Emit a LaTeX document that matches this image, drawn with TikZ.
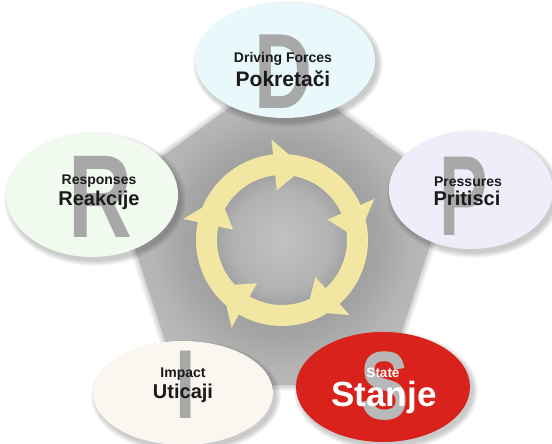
\documentclass[tikz,border=0pt]{standalone}
\usepackage{fontspec}
\setmainfont{Liberation Sans}
\usetikzlibrary{shapes.geometric,calc}
\definecolor{ringY}{HTML}{F2E7A2}
\definecolor{dFill}{HTML}{E8F8FB}
\definecolor{rFill}{HTML}{F0FAEE}
\definecolor{pFill}{HTML}{EEEEFA}
\definecolor{iFill}{HTML}{FBF6EF}
\definecolor{sFill}{HTML}{D9221C}
\definecolor{bigGray}{HTML}{A8A8A8}
\definecolor{bigGrayS}{HTML}{B8B8B8}
\definecolor{txtDark}{HTML}{1A1A1A}
\definecolor{pentBase}{HTML}{B6B6B6}
\definecolor{gA}{HTML}{C2C2C2}
\definecolor{gB}{HTML}{B2B2B2}
\definecolor{gC}{HTML}{9C9C9C}
\definecolor{gD}{HTML}{A6A6A6}
\definecolor{gE}{HTML}{B4B4B4}
\definecolor{gF}{HTML}{BEBEBE}
\pgfdeclareradialshading{pentglow}{\pgfpoint{0bp}{0bp}}{color(0bp)=(gA); color(7.4bp)=(gB); color(10.5bp)=(gC); color(14.7bp)=(gD); color(19bp)=(gE); color(25bp)=(gF); color(50bp)=(gF)}
\newcommand\softshadow[4]{%
  \foreach \k in {0,...,5}{\fill[black,opacity=0.035] ({#1+3},{#2-4}) ellipse ({#3+\k} and {#4+\k});}}
\tikzset{
  oval/.style={ellipse, inner sep=0pt, outer sep=0pt},
  bigletter/.style={inner sep=0pt, text=bigGray, xscale=0.75},
  small/.style={anchor=base, text=txtDark, font=\fontsize{14}{14}\selectfont\bfseries},
  large/.style={anchor=base, text=txtDark, font=\fontsize{20}{20}\selectfont\bfseries}
}
\begin{document}
\begin{tikzpicture}[x=1pt,y=1pt]
\useasboundingbox (0,0) rectangle (552,444);
\fill[white] (0,0) rectangle (552,444);
\coordinate (C) at (282,204);
\coordinate (PC) at (282,200);
\coordinate (V1) at ($(PC)+(90:174)$);
\coordinate (V2) at ($(PC)+(162:174)$);
\coordinate (V3) at ($(PC)+(234:174)$);
\coordinate (V4) at ($(PC)+(306:174)$);
\coordinate (V5) at ($(PC)+(18:174)$);
% pentagon shadow
\foreach \k in {1,...,6}{
  \filldraw[black, opacity=0.03, line width=\k*2pt, line join=round, shift={(2,-4)}]
    (V1) -- (V2) -- (V3) -- (V4) -- (V5) -- cycle;
}
% pentagon
\fill[pentBase] (V1) -- (V2) -- (V3) -- (V4) -- (V5) -- cycle;
\begin{scope}
  \clip (V1) -- (V2) -- (V3) -- (V4) -- (V5) -- cycle;
  \shade[shading=pentglow] (C) circle (170);
\end{scope}
% ring of arrows
\fill[ringY, even odd rule] (C) circle (86) (C) circle (65);
\foreach \b in {96,24,-48,-120,168}{
  \fill[ringY] ($(C)+(\b:101)$) -- ($(C)+({\b-23}:75.5)$) -- ($(C)+(\b:50)$) -- cycle;
}
% ellipse shadows
\softshadow{285}{384}{90}{58}
\softshadow{92}{249}{86}{62}
\softshadow{471}{254}{82}{59}
\softshadow{183}{51}{90}{52}
\softshadow{383}{57}{87}{55}
% ellipses
\node[oval, fill=dFill, minimum width=180pt, minimum height=116pt] (D) at (285,384) {};
\node[oval, fill=rFill, minimum width=172pt, minimum height=124pt] (R) at (92,249) {};
\node[oval, fill=pFill, minimum width=164pt, minimum height=118pt] (P) at (471,254) {};
\node[oval, fill=iFill, minimum width=180pt, minimum height=104pt] (I) at (183,51) {};
\node[oval, fill=sFill, minimum width=174pt, minimum height=110pt] (S) at (383,57) {};
% big letters
\node[bigletter, font=\fontsize{107}{107}\selectfont\bfseries] (Dl) at (283,372) {D};
\node[bigletter, font=\fontsize{118}{118}\selectfont\bfseries] (Rl) at (100,247) {R};
\node[bigletter, xscale=0.85, font=\fontsize{114}{114}\selectfont\bfseries] (Pl) at (464,248) {P};
\node[bigletter, font=\fontsize{98}{98}\selectfont\bfseries] (Il) at (186,59) {I};
\node[bigletter, text=bigGrayS, font=\fontsize{97}{97}\selectfont\bfseries] (Sl) at (385,58) {S};
% labels
\node[small] (D1) at (283,381) {Driving Forces};
\node[large, font=\fontsize{21}{21}\selectfont\bfseries] (D2) at (283,357) {Pokretači};
\node[small] (R1) at (99,259) {Responses};
\node[large] (R2) at (99,238) {Reakcije};
\node[small] (P1) at (468,257) {Pressures};
\node[large] (P2) at (467,238) {Pritisci};
\node[small] (I1) at (183,66) {Impact};
\node[large] (I2) at (183,45) {Uticaji};
\node[small, text=white, font=\fontsize{13.5}{13.5}\selectfont\bfseries] (S1) at (383,66) {State};
\node[large, text=white, font=\fontsize{35}{35}\selectfont\bfseries] (S2) at (384,37) {Stanje};
\end{tikzpicture}
\end{document}
